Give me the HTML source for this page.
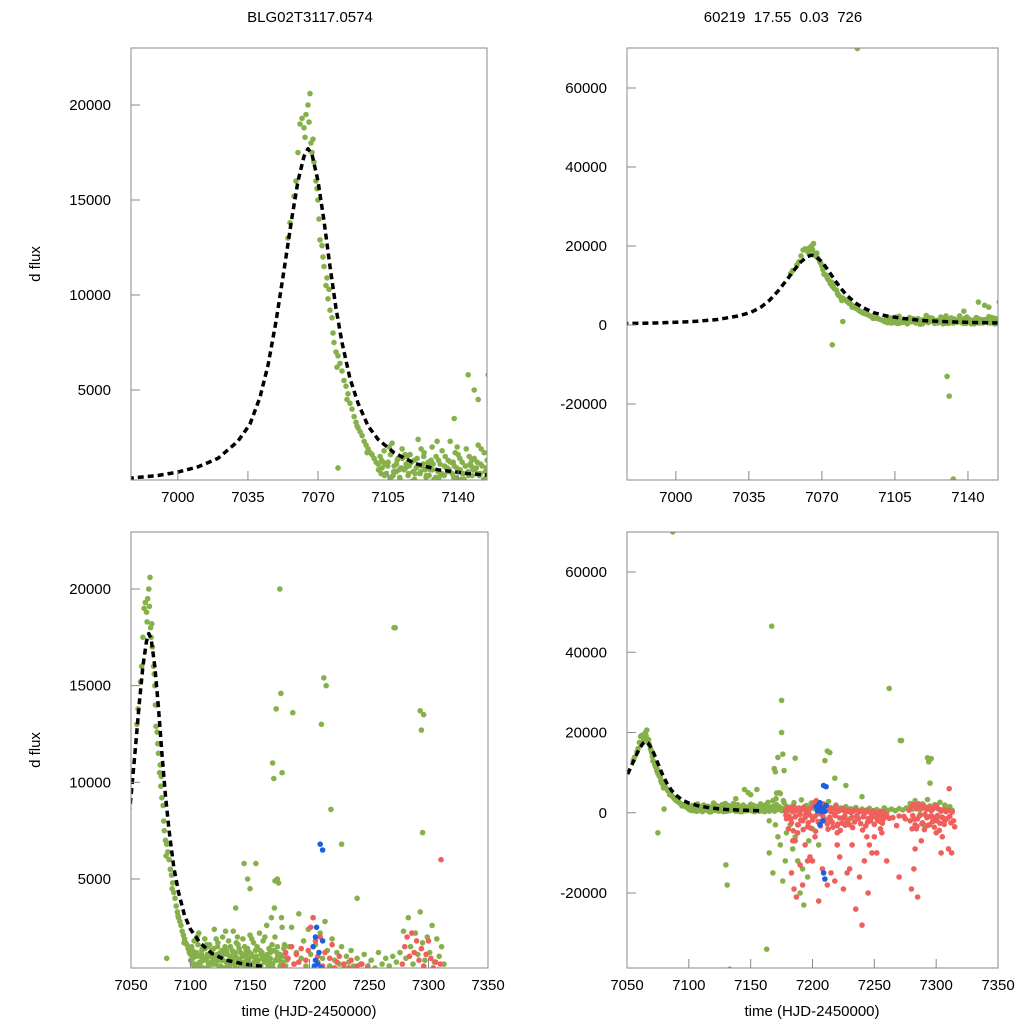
<!DOCTYPE html>
<html><head><meta charset="utf-8"><style>
html,body{margin:0;padding:0;background:#fff;overflow:hidden;width:1024px;height:1024px}
svg{display:block;font-family:"Liberation Sans",sans-serif}
</style></head><body>
<svg id="chart" width="1024" height="1024" viewBox="0 0 1024 1024" xmlns="http://www.w3.org/2000/svg">
<rect width="1024" height="1024" fill="#fff"/>
<text x="310" y="22" font-size="15" text-anchor="middle">BLG02T3117.0574</text>
<text x="783" y="22" font-size="15" text-anchor="middle" xml:space="preserve">60219  17.55  0.03  726</text>
<text transform="translate(40,264) rotate(-90)" font-size="15" text-anchor="middle">d flux</text>
<text transform="translate(40,750) rotate(-90)" font-size="15" text-anchor="middle">d flux</text>
<text x="309" y="1016" font-size="15" text-anchor="middle">time (HJD-2450000)</text>
<text x="812" y="1016" font-size="15" text-anchor="middle">time (HJD-2450000)</text>
</svg>
<script>
const modelT=[6960,6977,6990,7000,7010,7020,7030,7036,7041,7045,7049,7053,7057,7060,7063,7065,7067,7070,7073,7076,7079,7082,7086,7090,7095,7100,7108,7118,7130,7145,7160];
const modelF=[300,370,500,680,950,1400,2300,3200,4600,6300,8600,11300,14100,16000,17300,17700,17400,16000,13900,11500,9300,7500,5600,4300,3100,2400,1700,1150,800,600,480];

const greenT=[7055,7056,7058,7059,7060,7061,7062,7063,7064,7065,7066,7066.5,7067,7067.5,7068,7069,7070,7070.5,7071,7072,7072.5,7073,7074,7075,7075.5,7076,7077,7077.5,7078,7079,7080,7081,7082,7083,7084,7085,7086,7087,7088,7089,7090,7091,7092,7093,7094,7095,7096,7097,7098,7099,7100,7080,7063.5,7065.5,7069.5,7074.5,7079.5,7084.5,7089.5,7094.5,
7101,7102,7103,7104,7105,7106,7107,7108,7109,7110,7111,7112,7113,7114,7115,7116,7117,7118,7119,7120,7121,7122,7123,7124,7125,7126,7127,7128,7129,7130,7131,7132,7133,7134,7135,7136,7137,7138,7139,7140,7141,7142,7143,7144,7145,7146,7147,7148,7149,7150,7151,7152,7153,7154,
7101.5,7103.5,7105.5,7107.5,7109.5,7111.5,7113.5,7115.5,7117.5,7119.5,7121.5,7123.5,7125.5,7127.5,7129.5,7131.5,7133.5,7135.5,7137.5,7139.5,7141.5,7143.5,7145.5,7147.5,7149.5,7151.5,7153.5,
7102.5,7106.5,7110.5,7114.5,7118.5,7122.5,7126.5,7130.5,7134.5,7138.5,7142.5,7146.5,7150.5,7154.5,
7100.2,7101.8,7103.2,7104.8,7106.2,7107.8,7109.2,7110.8,7112.2,7113.8,7115.2,7116.8,7118.2,7119.8,7121.2,7122.8,7124.2,7125.8,7127.2,7128.8,7130.2,7131.8,7133.2,7134.8,7136.2,7137.8,7139.2,7140.8,7142.2,7143.8,7145.2,7146.8,7148.2,7149.8,7151.2,7152.8,7154.2,
7156,7157,7158,7159,7160,7161,7162,7163,7164,7165,7166,7167,7168,7169,7170,7171,7172,7173,7174,7175,7176,7177,7178,7179,7180,7156.5,7158.5,7160.5,7162.5,7164.5,7166.5,7168.5,7170.5,7172.5,7174.5,7176.5,7178.5,
7155.3,7157.3,7159.3,7161.3,7163.3,7165.3,7167.3,7169.3,7171.3,7173.3,7175.3,7177.3,7179.3,
7145,7155,7169,7170,7171,7173,7175,7176,7177,7172,7186,7212,7210,7218,7227,7271,7293,7294,7295,7240,
7075,7130,7131,7133,7087,7167,7262,7175,7272,7296,7214,7165,7168,7163,7150,7138,7148,
7181,7183,7185,7187,7189,7191,7193,7195,7197,7199,7201,7203,7205,7207,7209,7211,7213,7215,7217,7219,7221,7223,7225,7227,7229,7231,7233,7235,7237,7240,7243,7246,7249,7252,7255,7258,7261,7264,7267,7270,7273,7276,7279,7281,7283,7285,7287,7289,7291,7293,7295,7297,7299,7301,7303,7305,7307,7309,7311,7313,
7182,7186,7190,7193,7184,7188,7196,7200,7205,7210,7230,7260,7290,7300,7176,7178,7172,7170,7165,7174,7179,7192,7197];
const greenF=[13000,13800,15200,16000,17500,19000,19300,18800,19500,20000,20600,18000,17500,18200,17000,16000,15000,14000,12900,12600,12000,11500,10500,9800,10300,9200,8800,8000,7500,7000,6800,6400,6000,5500,5200,4800,4300,4000,3600,3300,3000,2800,2600,2300,2100,1900,1700,1600,1400,1200,1100,900,18300,19100,15600,10900,6200,4500,3100,1700,
1500,900,1800,600,1200,400,2200,1000,700,1400,300,1900,800,1100,500,1600,200,1300,900,2400,600,1000,1700,400,1200,800,2000,300,1500,700,1100,1800,500,900,1300,2300,600,1000,400,1600,800,1200,300,1900,700,1100,500,1400,900,2100,600,1000,1700,400,
600,1100,2000,500,1300,900,1600,1000,700,1400,1900,800,500,1100,2300,600,1500,800,1200,2000,300,1000,1500,800,1200,1900,700,
1200,400,800,1500,600,1100,1300,400,900,1700,600,1000,500,1300,
800,1300,500,1000,1600,700,1100,400,1400,900,600,1200,300,1000,700,1500,500,1100,800,400,1300,600,1000,700,1200,400,900,1400,600,1000,500,1300,800,600,1100,300,900,
1500,800,2200,500,1200,1800,700,1000,2600,400,1400,900,3000,600,1300,2000,800,1500,4800,1100,700,2500,1000,1600,500,600,1300,900,2000,1100,700,1600,3500,1200,900,3000,1400,
1000,400,1100,300,900,500,1200,400,800,1000,500,700,1100,
5800,5800,11000,10200,4900,5000,20000,14600,10500,13800,13600,15400,13000,8600,6800,18000,13700,12700,7400,4000,
-5000,-13000,-18000,-39000,70000,46500,31000,28000,18000,13500,15000,-10000,-15000,-34000,4500,3500,5000,
800,1500,2500,600,1200,3200,900,1800,500,2400,1100,3000,1600,700,2200,900,2800,1300,500,1900,800,1200,600,1500,400,1000,700,1300,500,900,600,1100,500,800,400,1200,600,900,500,1000,700,1200,2300,900,3000,1500,600,2200,1100,3300,1700,800,2000,1200,2600,700,1900,1000,1500,600,
-3000,-6000,-20000,-23000,-9000,-12000,-16000,-4000,-8000,-2000,-1500,-1000,-3000,-2000,-17000,-12000,-6000,-3000,-2000,-8000,-5000,-14000,-7000];

const redT=[7178,7179,7180,7181,7182,7183,7184,7185,7186,7187,7188,7189,7190,7191,7192,7193,7194,7195,7196,7197,7198,7199,7200,7201,7202,7203,7204,7205,7206,7207,7208,7209,7210,7211,7212,7213,7214,7215,7216,7217,7218,7219,7220,7221,7222,7223,7224,7225,7226,7227,7228,7229,7230,7231,7232,7233,7234,7235,7236,7237,7238,7239,7240,7241,7242,7243,7244,7245,7246,7247,7248,7249,7250,7251,7252,7253,7254,7255,7256,7257,7258,7259,7260,7265,7270,7275,7278,7279,7280,7281,7282,7283,7284,7285,7286,7287,7288,7289,7290,7291,7292,7293,7294,7295,7296,7297,7298,7299,7300,7301,7302,7303,7304,7305,7306,7307,7308,7309,7310,7311,7312,7313,7314,7315,
7178.5,7180.5,7182.5,7184.5,7186.5,7188.5,7190.5,7192.5,7194.5,7196.5,7198.5,7200.5,7202.5,7204.5,7206.5,7208.5,7212.5,7214.5,7216.5,7218.5,7220.5,7222.5,7224.5,7226.5,7228.5,7232.5,7236.5,7240.5,7244.5,7248.5,7252.5,7256.5,7262,7268,7274,7280.5,7282.5,7284.5,7286.5,7288.5,7290.5,7292.5,7294.5,7296.5,7298.5,7300.5,7302.5,7304.5,7306.5,7308.5,7310.5,7312.5,
7183,7185,7187,7190,7192,7200,7205,7215,7220,7225,7230,7235,7240,7245,7248,7250,7255,7260,7270,7280,7283,7285,7300,7305,7310,
7186,7188,7194,7198,7202,7208,7218,7220,7222,7232,7238,7242,7246,7252,7282,7284,7304,7184,7196,7212,7228,7244,7256,7288,7296,7302];
const redF=[500,-1500,1200,-800,900,-2500,300,1500,-1000,600,-3000,1100,-400,700,-2000,1400,-1200,200,-3500,800,-600,1300,-1800,2500,-900,3000,-300,1800,-2200,1000,-700,2000,-1600,500,-2800,1200,-1100,300,-2400,900,-500,1600,-3200,400,-1300,700,-2600,1000,-800,200,-1900,600,-3000,100,-1100,400,-2300,800,-700,-1500,300,-2700,500,-1000,-200,-3300,600,-1400,200,-2000,-600,400,-2900,100,-1200,-400,-2100,300,-800,-1700,200,-1000,-500,-1200,-800,-1500,600,-2000,1500,-700,2000,-3000,1000,-1500,2200,-600,1200,-2500,1800,-400,800,-3200,1400,-900,500,-2200,1100,-1300,1800,-700,900,-2600,400,-1100,700,-2000,300,-1400,600,-900,-2500,200,
-2000,-3500,-600,-4000,-1500,-4500,-800,-3000,-1800,-4200,-500,-2500,-3800,-1200,-4600,-2200,-3300,-900,-4100,-1700,-3600,-700,-2800,-4400,-1300,-3100,-2000,-3700,-1500,-4300,-2400,-1000,-1800,-2600,-1400,-3200,-900,-4000,-1600,-3400,-700,-2700,-4200,-1200,-3000,-800,-3600,-1900,-4400,-1100,-2900,-1500,
6000,-10000,-15000,-19000,-21000,-13000,-18000,-12000,-22000,-15000,-8000,-19000,-14000,-24000,-28000,-20000,-10000,-6000,-4000,-12000,-16000,-19000,-9000,-21000,-5000,
-6000,-9000,-7000,-5000,-8000,-11000,-6000,-14000,-17000,-5000,-11000,-8000,-16000,-12000,-8000,-10000,-14000,-4000,-10000,-7000,-12000,-18000,-15000,-6000,-5000,-7000];

const blueT=[7203,7205,7206,7207,7208,7209,7210,7211,7207.5,7204,7209,7210,7206,7211,7205,7208.5];
const blueF=[1500,800,2500,600,1200,6800,400,1800,300,500,-15000,-16500,-3000,6500,2000,-2000];

const panels=[
 {n:'top-left',x0:131,x1:487,y0:48,y1:480,tmin:6976.6,tmax:7154.4,fmin:263,fmax:23000,xt:[7000,7035,7070,7105,7140],yt:[5000,10000,15000,20000]},
 {n:'top-right',x0:627,x1:998,y0:48,y1:480,tmin:6976.6,tmax:7154.4,fmin:-39240,fmax:70130,xt:[7000,7035,7070,7105,7140],yt:[-20000,0,20000,40000,60000]},
 {n:'bottom-left',x0:131,x1:488,y0:532,y1:968,tmin:7050,tmax:7350,fmin:397,fmax:22948,xt:[7050,7100,7150,7200,7250,7300,7350],yt:[5000,10000,15000,20000]},
 {n:'bottom-right',x0:627,x1:998,y0:532,y1:968,tmin:7050,tmax:7350,fmin:-38690,fmax:69970,xt:[7050,7100,7150,7200,7250,7300,7350],yt:[-20000,0,20000,40000,60000]}
];
const NS='http://www.w3.org/2000/svg';
const svg=document.getElementById('chart');
function mk(tag,attrs,parent){const e=document.createElementNS(NS,tag);for(const k in attrs)e.setAttribute(k,attrs[k]);(parent||svg).appendChild(e);return e;}
panels.forEach((p,i)=>{
 const X=t=>p.x0+(t-p.tmin)/(p.tmax-p.tmin)*(p.x1-p.x0);
 const Y=f=>p.y1-(f-p.fmin)/(p.fmax-p.fmin)*(p.y1-p.y0);
 const g=mk('g',{});
 
 
 const cp=mk('clipPath',{id:'cp'+i},g);
 mk('rect',{x:p.x0,y:p.y0,width:p.x1-p.x0,height:p.y1-p.y0},cp);
 const pts=mk('g',{'clip-path':'url(#cp'+i+')'},g);
 
 
 const series=[[greenT,greenF,'#86b14a'],[redT,redF,'#ef5f5c'],[blueT,blueF,'#1c5fe0']];
 series.forEach(s=>{
  for(let k=0;k<s[0].length;k++){
   const t=s[0][k],f=s[1][k];
   if(t<p.tmin-1||t>p.tmax+1||f<p.fmin-400||f>p.fmax+400)continue;
   const c=mk('circle',{cx:X(t).toFixed(1),cy:Y(f).toFixed(1),r:2.8,fill:s[2]},pts);
   
   
  }
 });
 const vis=[];
 modelT.forEach((t,k)=>{if(t>=p.tmin-20&&t<=p.tmax+20)vis.push([t,modelF[k]]);});
 let d='';
 vis.forEach((q,k)=>{d+=(k?'L':'M')+X(q[0]).toFixed(1)+','+Y(q[1]).toFixed(1);});
 const ln=mk('path',{d:d,fill:'none',stroke:'#000','stroke-width':3.5,'stroke-dasharray':'6,4','stroke-linejoin':'round','clip-path':'url(#cp'+i+')'},g);
 
 
 const fr=mk('rect',{x:p.x0,y:p.y0,width:p.x1-p.x0,height:p.y1-p.y0,fill:'none',stroke:'#888','stroke-width':1},g);
 
 
 p.xt.forEach(t=>{
  const x=X(t);
  mk('line',{x1:x,x2:x,y1:p.y1,y2:p.y1-9,stroke:'#888'},g);
  const tx=mk('text',{x:x,y:p.y1+22,'font-size':15,'text-anchor':'middle'},g);
  tx.textContent=t;
  
  
 });
 p.yt.forEach(f=>{
  const y=Y(f);
  mk('line',{x1:p.x0,x2:p.x0+9,y1:y,y2:y,stroke:'#888'},g);
  const tx=mk('text',{x:p.x0-20,y:y+5,'font-size':15,'text-anchor':'end'},g);
  tx.textContent=f;
  
  
 });
});
</script>
</body></html>
